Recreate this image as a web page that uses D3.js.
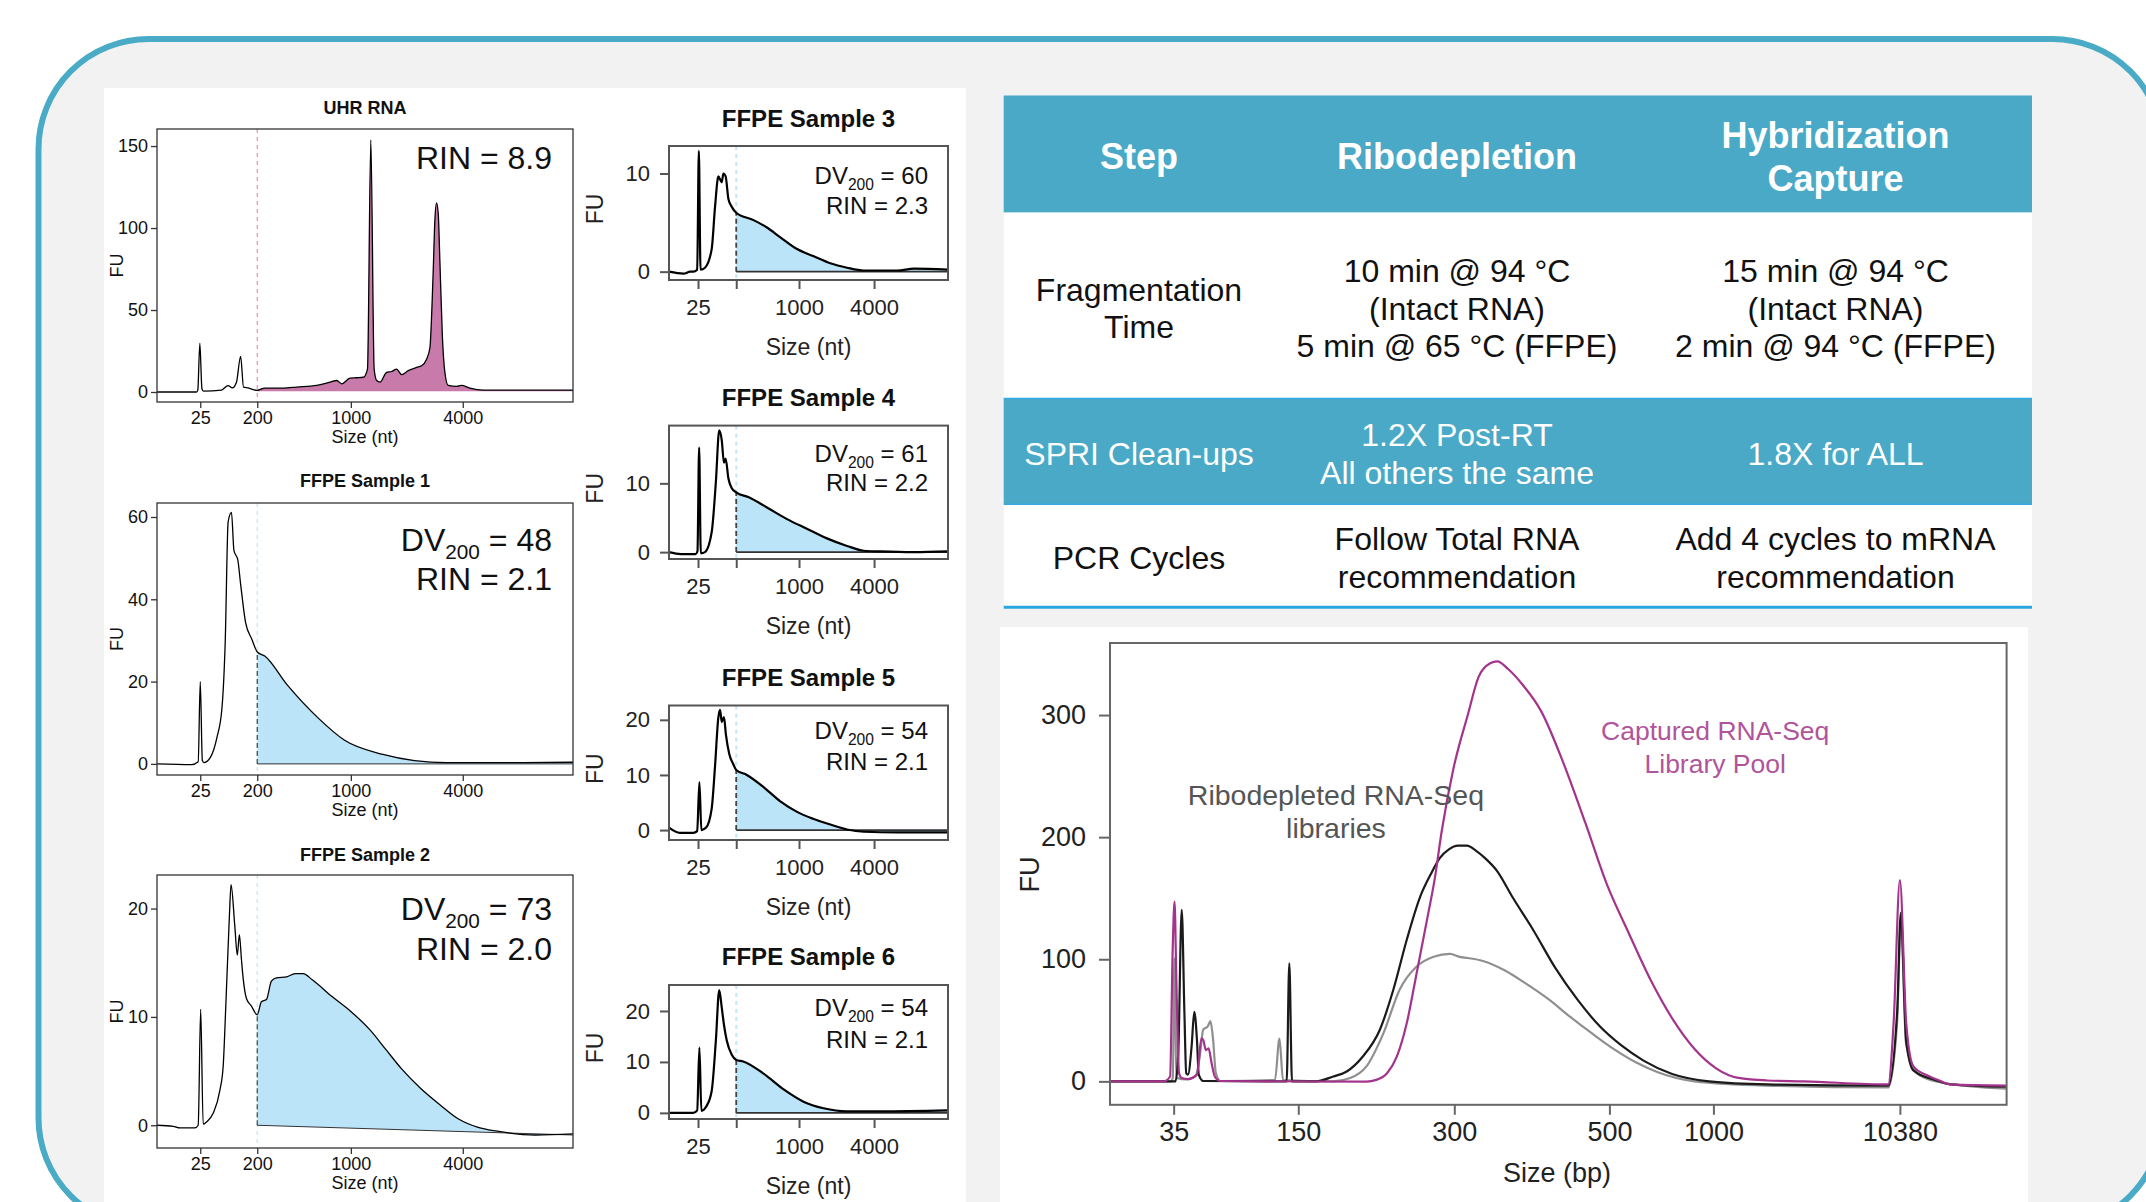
<!DOCTYPE html>
<html>
<head>
<meta charset="utf-8">
<script src="https://cdn.jsdelivr.net/npm/d3@7"></script>
<style>
  body { margin: 0; background: #fff; }
  svg text { font-family: "Liberation Sans", Arial, sans-serif; }
</style>
</head>
<body>
<svg id="fig" width="2146" height="1202"></svg>
<script>
var FONT = '"Liberation Sans", Arial, sans-serif';

// ---- RNA electropherograms (migration time 0-100, FU) ----
var ladderNt = [25, 200, 1000, 4000];
var ladderT = [10.4, 24.1, 46.6, 73.5];

var sampleNames = ["UHR RNA", "FFPE Sample 1", "FFPE Sample 2", "FFPE Sample 3",
                   "FFPE Sample 4", "FFPE Sample 5", "FFPE Sample 6"];
var dv200 = [null, 48, 73, 60, 61, 54, 54];
var rin = ["8.9", "2.1", "2.0", "2.3", "2.2", "2.1", "2.1"];
var fuTicks = [[0, 50, 100, 150], [0, 20, 40, 60], [0, 10, 20], [0, 10], [0, 10], [0, 10, 20], [0, 10, 20]];
var fuRange = [[-6.1, 160.4], [-2.7, 63.4], [-2.1, 23.1], [-0.85, 12.8], [-1.0, 18.4], [-1.8, 22.6], [-1.2, 25.1]];
var fillBase = [[0.5, 0.5], [0, 0], [0, -0.9], [0, 0], [0, 0], [0, 0], [0, 0]];

var uhrTrace = [[0,0],[9.5,0],[9.8,1],[10.3,29.7],[10.8,2],[11.2,0.5],[15.5,1.2],[17.1,3.9],[18.1,2.5],[19.1,6],
  [20.1,21.7],[20.8,3],[21.9,2.5],[24.1,1],[25.9,2.4],[30.4,2.4],[33.6,3],[38.4,4],[41.6,6],[43.2,7],[44.4,5],
  [46.4,8.5],[48.0,8.7],[49.6,9],[50.6,14],[51.4,153.7],[52.2,14],[52.8,7],[53.6,6],[55.2,12],[56.4,12.5],
  [57.6,14],[58.8,10.6],[60.4,13],[62.4,15],[63.6,16],[64.8,20],[65.6,27],[66.4,74],[66.8,105],[67.2,115.4],
  [67.6,109],[68.0,80],[68.6,34],[69.2,12],[70.0,4],[72.0,3.4],[73.2,4],[75.2,2.4],[78.4,1.2],[86.5,1.2],[100,1.2]];
var ffpe1Trace = [[0,0],[8.3,-0.2],[9.9,0.5],[10.4,20],[10.9,0.8],[11.3,0.3],[12.9,1.7],[14.4,6.4],[15.6,13.4],
  [16.4,29.7],[17.1,58.8],[17.9,61.1],[18.5,51.8],[19.4,49.7],[20.1,43.7],[21.3,34.3],[22.8,30.3],[24.1,27.2],
  [25.9,26.2],[31.3,19.2],[38.9,11.0],[45.0,5.8],[54.3,2.3],[61.9,0.8],[69.6,0.3],[84.9,0.3],[100,0.4]];
var ffpe2Trace = [[0,0],[3.9,-0.1],[5.5,-0.25],[9.1,-0.25],[9.9,0],[10.5,10.7],[11.1,0.1],[11.9,0.3],[13.5,1.1],
  [15.1,3.2],[15.9,5.4],[16.6,11.6],[17.4,19.3],[17.8,22.2],[18.7,18.4],[19.3,15.7],[19.8,17.6],[20.3,15.3],
  [20.7,13.6],[21.5,11.7],[22.7,11.0],[24.1,10.2],[25.1,11.4],[26.3,11.6],[27.5,13.3],[28.7,13.6],[31.2,13.7],
  [33.2,14.0],[35.1,14.0],[37.4,13.4],[42.0,11.9],[46.6,10.5],[51.2,8.8],[55.0,7.0],[58.8,5.2],[63.4,3.4],
  [68.0,1.9],[72.6,0.55],[77.2,-0.2],[81.8,-0.55],[91.0,-0.9],[100,-0.8]];
var ffpe3Trace = [[0,0],[5.2,-0.2],[7.6,0],[8.7,0],[10.1,0.2],[10.7,12.3],[11.3,0.2],[12.9,0.4],[15.3,2.3],
  [16.5,6.6],[17.7,9.7],[18.9,9.1],[19.5,10.0],[20.3,9.7],[21.3,7.4],[22.5,6.6],[24.1,6.0],[30.3,5.25],
  [35.1,4.5],[39.9,3.5],[45.9,2.3],[51.9,1.56],[57.8,0.85],[63.8,0.4],[69.8,0.12],[81.8,0.12],[87.8,0.3],[100,0.2]];
var ffpe4Trace = [[0,0],[4.3,-0.28],[9.5,-0.28],[10.2,0.1],[10.8,15.2],[11.4,-0.17],[12.9,0],[15.3,2.9],
  [16.8,10.2],[18.0,17.7],[18.9,16.3],[19.7,13.0],[20.3,13.6],[21.3,10.7],[22.5,9.3],[24.1,8.7],[28.4,8.0],
  [35.1,6.5],[42.3,4.8],[49.4,3.4],[56.6,2.0],[63.8,0.9],[69.8,0.2],[75.7,0.1],[87.7,0],[100,0.1]];
var ffpe5Trace = [[0,0.45],[3.9,-0.5],[8.7,-0.5],[10.1,-0.2],[10.9,8.7],[11.6,0],[13.3,0.45],[15.3,3.9],
  [16.5,11.6],[17.7,20.5],[18.3,21.8],[18.9,19.6],[19.7,20.5],[20.4,17.3],[21.6,13.8],[23.1,11.9],[24.1,10.9],
  [27.9,10.0],[33.9,7.8],[39.9,5.2],[45.9,3.3],[51.9,2.0],[57.8,1.0],[63.8,0.1],[69.8,-0.3],[81.8,-0.4],[100,-0.4]];
var ffpe6Trace = [[0,0],[8.7,0],[10.1,0.5],[10.9,12.8],[11.6,0.4],[13.3,1.2],[15.3,4.3],[16.8,14.2],[18.0,24.1],
  [18.9,20.7],[19.7,17.3],[20.7,14.2],[22.5,11.4],[24.1,10.4],[26.6,10.1],[33.9,7.7],[41.1,4.6],[48.2,2.2],
  [55.4,0.9],[63.8,0.3],[75.7,0.3],[100,0.5]];
var traces = [uhrTrace, ffpe1Trace, ffpe2Trace, ffpe3Trace, ffpe4Trace, ffpe5Trace, ffpe6Trace];

// ---- library traces (bp) ----
var libLadderBp = [35, 150, 300, 500, 1000, 10380];
var libLadderT = [7.1, 21.0, 38.4, 55.7, 67.3, 88.1];
var libFuTicks = [0, 100, 200, 300];

var riboBlack = [[0,0],[7.3,0],[7.6,20],[8.0,140.4],[8.3,56],[8.5,6.7],[8.7,5.5],[9.1,28.4],[9.4,57],[9.7,33.8],
  [9.9,5.5],[10.4,0.3],[19.7,0],[20.0,96.7],[20.3,0],[23.0,0],[24.9,4],[26.4,8.1],[28.2,20.4],[30.1,42.3],
  [31.6,75],[33.1,116],[34.6,151.3],[35.8,170],[36.8,183],[37.8,190],[38.8,193],[39.8,193],[40.8,189],
  [41.8,183],[43.2,172],[44.8,152],[47.2,124],[49.7,92.5],[52.1,67.3],[54.6,45.3],[57.0,29.6],[59.5,17],
  [62.7,6],[66.8,0],[73.3,-2.5],[86.8,-3.5],[87.8,58],[88.2,138],[88.8,33],[89.6,9],[92.1,1],[93.7,-2.5],[100,-4.4]];
var riboGray = [[0,0],[6.8,0],[7.0,3],[7.2,100.8],[7.4,3],[8.5,1.5],[9.1,2.5],[9.6,5],[10.0,19.7],[10.4,42.3],
  [10.9,45],[11.2,49.3],[11.5,34],[11.8,7],[12.3,0.3],[18.4,1.2],[18.9,35],[19.3,1.0],[24.9,0],[26.8,2.7],
  [28.6,12.2],[30.5,39.5],[32.3,75],[34.2,94],[36.1,102],[37.9,104.4],[39.0,102],[39.9,101],[41.5,98.8],
  [44.0,91],[46.4,80],[48.9,67.3],[51.3,53],[53.8,39],[56.2,26.4],[58.7,15.4],[61.1,7.5],[65.2,0],[73.3,-3.5],
  [86.8,-5],[87.8,50],[88.2,132],[88.8,30],[90.3,5],[92.8,-1],[100,-6]];
var capturedPool = [[0,0],[6.0,0],[6.7,4],[7.0,110],[7.2,147.2],[7.4,83],[7.7,6.7],[8.0,2.7],[8.7,1.9],[9.7,5.5],
  [10.2,35.2],[10.4,33.8],[10.7,25.6],[11.0,27.0],[11.3,16.1],[11.7,3.8],[12.3,0.3],[28.6,-0.2],[29.7,1.2],
  [30.9,6.7],[32.0,20.4],[33.1,47.7],[34.2,88.6],[35.5,137.8],[36.2,165],[37.0,205],[38.3,256],[39.9,300],
  [41.1,331],[42.4,342.4],[43.2,344],[44.4,337.7],[46.0,325],[48.1,303],[50.5,262],[53.0,212],[55.4,161.7],
  [57.9,120.7],[60.3,83],[62.7,51.6],[65.2,26.5],[67.6,10.7],[70.1,2.8],[73.3,0.7],[77.4,0],[86.8,-2.5],
  [87.4,48],[88.1,164.8],[88.8,48],[89.6,12.3],[91.3,4.4],[92.5,0.7],[93.7,-2.5],[100,-3.5]];

// ---- table ----
var tableHeader = [["Step"], ["Ribodepletion"], ["Hybridization", "Capture"]];
var tableRows = [
  [["Fragmentation", "Time"], ["10 min @ 94 °C", "(Intact RNA)", "5 min @ 65 °C (FFPE)"],
   ["15 min @ 94 °C", "(Intact RNA)", "2 min @ 94 °C (FFPE)"]],
  [["SPRI Clean-ups"], ["1.2X Post-RT", "All others the same"], ["1.8X for ALL"]],
  [["PCR Cycles"], ["Follow Total RNA", "recommendation"], ["Add 4 cycles to mRNA", "recommendation"]]
];

var svg = d3.select("#fig");

// frame and backgrounds
svg.append("rect").attr("x", 38.5).attr("y", 39).attr("width", 2124).attr("height", 1189)
  .attr("rx", 110).attr("fill", "#f2f2f2").attr("stroke", "#4aabc6").attr("stroke-width", 6);
svg.append("rect").attr("x", 104).attr("y", 88).attr("width", 862).attr("height", 1200).attr("fill", "#fff");
svg.append("rect").attr("x", 1000).attr("y", 627).attr("width", 1028).attr("height", 600).attr("fill", "#fff");

var layout = [
  {x0: 157, x1: 573, y0: 129, y1: 402, big: true, title: 108, stats: [157]},
  {x0: 157, x1: 573, y0: 503, y1: 775, big: true, title: 481, stats: [539, 578]},
  {x0: 157, x1: 573, y0: 875, y1: 1148, big: true, title: 855, stats: [908, 948]},
  {x0: 669, x1: 948, y0: 146, y1: 280, big: false, title: 118, stats: [175, 205]},
  {x0: 669, x1: 948, y0: 425.6, y1: 559, big: false, title: 397.5, stats: [453, 482]},
  {x0: 669, x1: 948, y0: 705.5, y1: 840, big: false, title: 677, stats: [730, 761]},
  {x0: 669, x1: 948, y0: 985, y1: 1119, big: false, title: 956.5, stats: [1007, 1039]}
];

function styleAxis(g, fs, col, lineCol, lw) {
  g.select(".domain").remove();
  g.attr("font-family", FONT).attr("font-size", fs);
  g.selectAll("text").attr("fill", col);
  g.selectAll("line").attr("stroke", lineCol).attr("stroke-width", lw);
}

function statText(g, xr, yc, fs, i, isDV) {
  var t = g.append("text").attr("x", xr).attr("y", yc).attr("dy", "0.36em")
    .attr("text-anchor", "end").attr("font-size", fs).attr("fill", "#111");
  if (isDV) {
    t.append("tspan").text("DV");
    t.append("tspan").attr("font-size", fs * 0.65).attr("dy", fs * 0.25).text("200");
    t.append("tspan").attr("dy", -fs * 0.25).text(" = " + dv200[i]);
  } else {
    t.text("RIN = " + rin[i]);
  }
}

function drawEpg(i) {
  var L = layout[i], data = traces[i];
  var st = L.big
    ? {fs: 18, tfs: 18, sfs: 32, lw: 1.3, frame: "#333", fw: 1.3, tick: 6, pad: 3, sizeDy: 35, lfs: 18, fuX: 117, txt: "#111"}
    : {fs: 22, tfs: 24, sfs: 24, lw: 2.2, frame: "#555", fw: 2, tick: 9, pad: 10, sizeDy: 67, lfs: 23, fuX: 595, txt: "#222"};
  var g = svg.append("g");
  var x = d3.scaleLinear().domain([0, 100]).range([L.x0, L.x1]);
  var y = d3.scaleLinear().domain(fuRange[i]).range([L.y1, L.y0]);
  var t200 = ladderT[1];
  var uhr = (i === 0);

  g.append("line").attr("x1", x(t200)).attr("x2", x(t200)).attr("y1", L.y0).attr("y2", L.y1)
    .attr("stroke", uhr ? "#e29ccb" : "#c4e6fa").attr("stroke-width", L.big ? 1.3 : 2)
    .attr("stroke-dasharray", "4,4");

  var base = d3.scaleLinear().domain([t200, 100]).range(fillBase[i]);
  var fillPts = data.filter(function(d) { return d[0] >= t200; });
  g.append("path").datum(fillPts)
    .attr("fill", uhr ? "#c87aab" : "#bce4f8")
    .attr("d", d3.area().curve(d3.curveMonotoneX)
      .x(function(d) { return x(d[0]); })
      .y0(function(d) { return y(base(d[0])); })
      .y1(function(d) { return y(d[1]); }));

  if (!uhr) {
    var top = fillPts[0][1];
    g.append("line").attr("x1", x(t200)).attr("x2", x(t200)).attr("y1", y(fillBase[i][0])).attr("y2", y(top))
      .attr("stroke", "#444").attr("stroke-width", L.big ? 1.2 : 1.8).attr("stroke-dasharray", "5,3");
    g.append("line").attr("x1", x(t200)).attr("x2", x(100))
      .attr("y1", y(fillBase[i][0])).attr("y2", y(fillBase[i][1]))
      .attr("stroke", "#333").attr("stroke-width", L.big ? 1 : 1.6);
  }

  g.append("path").datum(data).attr("fill", "none").attr("stroke", "#000").attr("stroke-width", st.lw)
    .attr("stroke-linejoin", "round")
    .attr("d", d3.line().curve(d3.curveMonotoneX)
      .x(function(d) { return x(d[0]); }).y(function(d) { return y(d[1]); }));

  g.append("rect").attr("x", L.x0).attr("y", L.y0).attr("width", L.x1 - L.x0).attr("height", L.y1 - L.y0)
    .attr("fill", "none").attr("stroke", st.frame).attr("stroke-width", st.fw);

  var ya = g.append("g").attr("transform", "translate(" + L.x0 + ",0)")
    .call(d3.axisLeft(y).tickValues(fuTicks[i]).tickSize(st.tick).tickPadding(st.pad));
  styleAxis(ya, st.fs, st.txt, st.frame, st.fw);
  var xa = g.append("g").attr("transform", "translate(0," + L.y1 + ")")
    .call(d3.axisBottom(x).tickValues(ladderT).tickSize(st.tick).tickPadding(st.pad)
      .tickFormat(function(d, k) { return (!L.big && k === 1) ? "" : ladderNt[k]; }));
  styleAxis(xa, st.fs, st.txt, st.frame, st.fw);

  var cx = (L.x0 + L.x1) / 2;
  g.append("text").attr("x", cx).attr("y", L.title).attr("dy", "0.36em").attr("text-anchor", "middle")
    .attr("font-size", st.tfs).attr("font-weight", "bold").attr("fill", "#111").text(sampleNames[i]);
  g.append("text").attr("x", cx).attr("y", L.y1 + st.sizeDy).attr("dy", "0.36em").attr("text-anchor", "middle")
    .attr("font-size", st.lfs).attr("fill", st.txt).text("Size (nt)");
  var fuY = (L.y0 + L.y1) / 2 - (L.big ? 0 : 4);
  g.append("text").attr("transform", "translate(" + st.fuX + "," + fuY + ") rotate(-90)")
    .attr("dy", "0.36em").attr("text-anchor", "middle").attr("font-size", st.lfs).attr("fill", st.txt).text("FU");

  var xr = L.x1 - (L.big ? 21 : 20);
  if (dv200[i] === null) {
    statText(g, xr, L.stats[0], st.sfs, i, false);
  } else {
    statText(g, xr, L.stats[0], st.sfs, i, true);
    statText(g, xr, L.stats[1], st.sfs, i, false);
  }
}

for (var i = 0; i < traces.length; i++) drawEpg(i);

// ---- table ----
var colX = [1139, 1457, 1835.5];
var rowY = [95.5, 212.6, 398.5, 504.2, 606];
var tbl = svg.append("g");
tbl.append("rect").attr("x", 1003.7).attr("y", rowY[0]).attr("width", 1028.3).attr("height", rowY[1] - rowY[0]).attr("fill", "#49a9c6");
tbl.append("rect").attr("x", 1003.7).attr("y", rowY[1]).attr("width", 1028.3).attr("height", rowY[2] - rowY[1]).attr("fill", "#fff");
tbl.append("rect").attr("x", 1003.7).attr("y", rowY[2]).attr("width", 1028.3).attr("height", rowY[3] - rowY[2]).attr("fill", "#49a9c6");
tbl.append("rect").attr("x", 1003.7).attr("y", rowY[3]).attr("width", 1028.3).attr("height", rowY[4] - rowY[3]).attr("fill", "#fff");
[rowY[2], rowY[3]].forEach(function(yy) {
  tbl.append("line").attr("x1", 1003.7).attr("x2", 2032).attr("y1", yy).attr("y2", yy)
    .attr("stroke", "#36a9e1").attr("stroke-width", 1.5);
});
tbl.append("line").attr("x1", 1003.7).attr("x2", 2032).attr("y1", 607.3).attr("y2", 607.3)
  .attr("stroke", "#2aa7e0").attr("stroke-width", 3);

function cellText(lines, cx, cy, lh, fs, col, bold) {
  var n = lines.length;
  lines.forEach(function(s, k) {
    tbl.append("text").attr("x", cx).attr("y", cy + (k - (n - 1) / 2) * lh).attr("dy", "0.36em")
      .attr("text-anchor", "middle").attr("font-size", fs).attr("fill", col)
      .attr("font-weight", bold ? "bold" : "normal").text(s);
  });
}
tableHeader.forEach(function(c, k) { cellText(c, colX[k], 156.5, 43, 36, "#fff", true); });
var rowCenters = [308, 453.6, 557.5];
tableRows.forEach(function(row, r) {
  row.forEach(function(c, k) {
    cellText(c, colX[k], rowCenters[r], 37.5, 32, r === 1 ? "#fff" : "#111", false);
  });
});

// ---- library size chart ----
var lib = svg.append("g");
var lx = d3.scaleLinear().domain([0, 100]).range([1110, 2006.6]);
var ly = d3.scaleLinear().domain([-19.2, 359]).range([1104.8, 643]);
var libLine = d3.line().curve(d3.curveMonotoneX)
  .x(function(d) { return lx(d[0]); }).y(function(d) { return ly(d[1]); });
[[riboGray, "#8f8f8f"], [riboBlack, "#1a1a1a"], [capturedPool, "#a3338b"]].forEach(function(s) {
  lib.append("path").datum(s[0]).attr("fill", "none").attr("stroke", s[1]).attr("stroke-width", 2.2)
    .attr("stroke-linejoin", "round").attr("d", libLine);
});
lib.append("rect").attr("x", 1110).attr("y", 643).attr("width", 896.6).attr("height", 461.8)
  .attr("fill", "none").attr("stroke", "#666").attr("stroke-width", 2);
var lya = lib.append("g").attr("transform", "translate(1110,0)")
  .call(d3.axisLeft(ly).tickValues(libFuTicks).tickSize(11).tickPadding(13));
styleAxis(lya, 27, "#222", "#666", 2);
var lxa = lib.append("g").attr("transform", "translate(0,1104.8)")
  .call(d3.axisBottom(lx).tickValues(libLadderT).tickSize(10).tickPadding(7)
    .tickFormat(function(d, k) { return libLadderBp[k]; }));
styleAxis(lxa, 27, "#222", "#666", 2);
lib.append("text").attr("x", 1557).attr("y", 1172).attr("dy", "0.36em").attr("text-anchor", "middle")
  .attr("font-size", 27).attr("fill", "#222").text("Size (bp)");
lib.append("text").attr("transform", "translate(1029,874.5) rotate(-90)").attr("dy", "0.36em")
  .attr("text-anchor", "middle").attr("font-size", 27).attr("fill", "#222").text("FU");

function annot(lines, t, fu, fs, col) {
  lines.forEach(function(s, k) {
    lib.append("text").attr("x", lx(t)).attr("y", ly(fu) + k * 33).attr("dy", "0.36em")
      .attr("text-anchor", "middle").attr("font-size", fs).attr("fill", col).text(s);
  });
}
annot(["Ribodepleted RNA-Seq", "libraries"], 25.2, 234.6, 28.5, "#555");
annot(["Captured RNA-Seq", "Library Pool"], 67.5, 287.4, 26.5, "#b0559b");
</script>
</body>
</html>
